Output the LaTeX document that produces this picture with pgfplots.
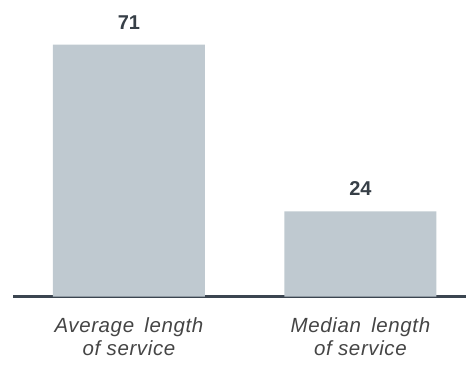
\documentclass[border=0pt]{standalone}
\usepackage{pgfplots}
\pgfplotsset{compat=1.18}
\usepackage{fontspec}
\setmainfont{Liberation Sans}
\definecolor{barc}{HTML}{BFC9D0}
\definecolor{valc}{HTML}{373F47}
\definecolor{labc}{HTML}{454545}
\definecolor{axc}{HTML}{3B4550}
\begin{document}
\begin{tikzpicture}
\useasboundingbox (0,0) rectangle (466bp,370bp);
\begin{axis}[
  at={(13bp,73.5bp)}, anchor=south west,
  scale only axis, width=453bp, height=254bp,
  xmin=-0.501, xmax=1.456, ymin=0, ymax=71.6,
  hide y axis,
  axis x line=bottom,
  x axis line style={-, draw=axc, line width=2bp},
  xtick={0,1}, major tick length=0pt,
  xticklabels={{Average\hspace{4bp} length\\of service},{Median\hspace{4bp} length\\of service}},
  xticklabel style={align=center, font=\fontsize{20.5bp}{22.5bp}\selectfont\itshape\addfontfeatures{LetterSpace=3}, text=labc, yshift=-18bp},
  ybar, bar width=152bp,
  nodes near coords,
  /pgf/number format/assume math mode=true,
  every node near coord/.append style={font=\fontsize{20bp}{22bp}\selectfont\bfseries, text=valc, yshift=12bp},
  clip=false,
]
\addplot[fill=barc, draw=none] coordinates {(0,71) (1,24)};
\end{axis}
\end{tikzpicture}
\end{document}
